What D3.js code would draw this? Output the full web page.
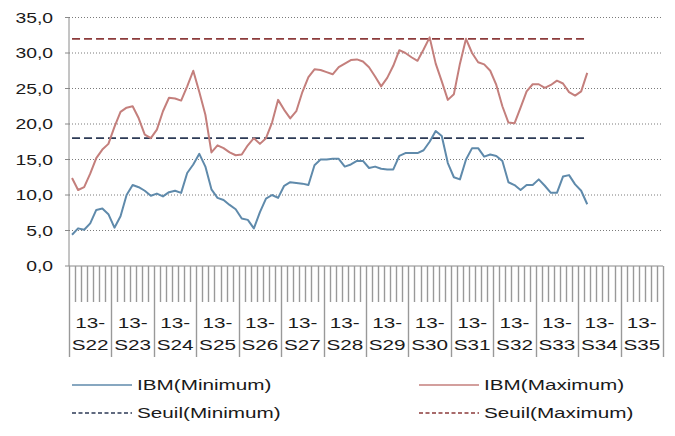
<!DOCTYPE html>
<html>
<head>
<meta charset="utf-8">
<script src="https://cdn.jsdelivr.net/npm/d3@7"></script>
<style>
  body { margin: 0; background: #fff; }
  text { font-family: "Liberation Sans", Arial, sans-serif; fill: #1a1a1a; }
</style>
</head>
<body>
<svg id="chart" width="675" height="436"></svg>
<script>
// weekly groups on the category axis, one tick per day inside each
const weeks = ['S22', 'S23', 'S24', 'S25', 'S26', 'S27', 'S28', 'S29', 'S30', 'S31', 'S32', 'S33', 'S34', 'S35']
const weekPrefix = '13-'
const daysPerWeek = 7
const yTicks = [0, 5, 10, 15, 20, 25, 30, 35]

const ibmMin = [
  4.4, 5.3, 5.1, 6.0, 7.9, 8.1, 7.3, 5.4, 7.0, 10.0,
  11.4, 11.1, 10.6, 9.9, 10.2, 9.8, 10.4, 10.6, 10.3, 13.1,
  14.3, 15.8, 14.0, 10.8, 9.6, 9.3, 8.6, 8.0, 6.7, 6.5,
  5.3, 7.6, 9.5, 10.0, 9.6, 11.3, 11.8, 11.7, 11.6, 11.4,
  14.2, 15.0, 15.0, 15.1, 15.1, 14.0, 14.3, 14.8, 14.8, 13.8,
  14.0, 13.7, 13.6, 13.6, 15.5, 15.9, 15.9, 15.9, 16.3, 17.5,
  19.0, 18.3, 14.5, 12.5, 12.2, 15.0, 16.6, 16.6, 15.4, 15.7,
  15.5, 14.8, 11.8, 11.4, 10.7, 11.4, 11.4, 12.2, 11.3, 10.3,
  10.3, 12.6, 12.8, 11.5, 10.6, 8.7
]
const ibmMax = [
  12.4, 10.7, 11.1, 13.0, 15.2, 16.4, 17.2, 19.6, 21.7, 22.3,
  22.5, 20.8, 18.5, 18.0, 19.2, 21.8, 23.7, 23.6, 23.3, 25.3,
  27.5, 24.5, 21.3, 16.0, 17.0, 16.6, 16.0, 15.6, 15.7, 17.0,
  18.0, 17.2, 18.0, 20.2, 23.4, 22.0, 20.8, 21.8, 24.5, 26.6,
  27.7, 27.6, 27.3, 27.0, 28.0, 28.5, 29.0, 29.1, 28.8, 28.0,
  26.7, 25.3, 26.5, 28.2, 30.4, 30.0, 29.4, 28.9, 30.5, 32.2,
  28.5, 26.0, 23.4, 24.2, 28.5, 32.0, 30.0, 28.7, 28.4, 27.5,
  25.5, 22.5, 20.2, 20.1, 22.3, 24.6, 25.6, 25.6, 25.1, 25.5,
  26.1, 25.7, 24.5, 24.0, 24.6, 27.2
]
const seuilMin = 18
const seuilMax = 32

const legendItems = [
  { label: 'IBM(Minimum)', color: '#5f8aab', dash: null },
  { label: 'IBM(Maximum)', color: '#c47f7c', dash: null },
  { label: 'Seuil(Minimum)', color: '#2c3a55', dash: '4,2.5' },
  { label: 'Seuil(Maximum)', color: '#8c3b3b', dash: '4,2.5' }
]

// the source picture is stretched sideways, so text is too
const SX = 1.38
const stretch = (x, y) => 'translate(' + x + ',' + y + ') scale(' + SX + ',1)'

const svg = d3.select('#chart')
const left = 69
const right = 663
const x = d3.scaleLinear().domain([0, weeks.length * daysPerWeek]).range([left, right])
const xWeek = d3.scaleBand().domain(weeks).range([left, right])
const y = d3.scaleLinear().domain([0, 35]).range([266, 17.5])

// gridlines
svg.append('g').selectAll('line')
  .data(yTicks.filter(d => d > 0))
  .join('line')
  .attr('x1', left).attr('x2', right - 1)
  .attr('y1', d => y(d)).attr('y2', d => y(d))
  .attr('stroke', '#7a7a7a')
  .attr('stroke-width', 1)
  .attr('stroke-dasharray', '1,2')

// y axis
const yAxis = svg.append('g')
yAxis.append('line')
  .attr('x1', left).attr('x2', left)
  .attr('y1', y(35)).attr('y2', y(0))
  .attr('stroke', '#8a8a8a')
yAxis.selectAll('.tick')
  .data(yTicks)
  .join('line')
  .attr('x1', left - 4).attr('x2', left)
  .attr('y1', d => y(d)).attr('y2', d => y(d))
  .attr('stroke', '#8a8a8a')
yAxis.selectAll('text')
  .data(yTicks)
  .join('text')
  .attr('transform', d => stretch(53, y(d) + 5))
  .attr('text-anchor', 'end')
  .attr('font-size', 14)
  .text(d => d3.format('.1f')(d).replace('.', ','))

// x axis: baseline, day ticks, week dividers
const xAxis = svg.append('g')
xAxis.append('line')
  .attr('x1', left).attr('x2', right)
  .attr('y1', y(0)).attr('y2', y(0))
  .attr('stroke', '#8a8a8a')
xAxis.selectAll('.day')
  .data(d3.range(0, weeks.length * daysPerWeek + 1))
  .join('line')
  .attr('x1', d => Math.round(x(d)) + 0.5).attr('x2', d => Math.round(x(d)) + 0.5)
  .attr('y1', y(0))
  .attr('y2', d => d % daysPerWeek === 0 ? 357 : 302)
  .attr('stroke', '#999')
  .attr('stroke-width', 1.4)

const labels = xAxis.selectAll('.wk')
  .data(weeks)
  .join('g')
labels.append('text')
  .attr('transform', d => stretch(xWeek(d) + xWeek.bandwidth() / 2, 328))
  .attr('text-anchor', 'middle')
  .attr('font-size', 15)
  .text(weekPrefix)
labels.append('text')
  .attr('transform', d => stretch(xWeek(d) + xWeek.bandwidth() / 2, 350))
  .attr('text-anchor', 'middle')
  .attr('font-size', 15)
  .text(d => d)

// threshold lines span the days that have data
const lastDay = ibmMax.length - 1
const drawSeuil = (value, color) => {
  svg.append('line')
    .attr('x1', x(0.5)).attr('x2', x(lastDay + 0.5))
    .attr('y1', y(value)).attr('y2', y(value))
    .attr('stroke', color)
    .attr('stroke-width', 1.8)
    .attr('stroke-dasharray', '8,4')
}
drawSeuil(seuilMax, legendItems[3].color)
drawSeuil(seuilMin, legendItems[2].color)

const line = d3.line()
  .x((d, i) => x(i + 0.5))
  .y(d => y(d))

svg.append('path')
  .datum(ibmMax)
  .attr('d', line)
  .attr('fill', 'none')
  .attr('stroke', legendItems[1].color)
  .attr('stroke-width', 2)
  .attr('stroke-linejoin', 'round')

svg.append('path')
  .datum(ibmMin)
  .attr('d', line)
  .attr('fill', 'none')
  .attr('stroke', legendItems[0].color)
  .attr('stroke-width', 2)
  .attr('stroke-linejoin', 'round')

// legend, two columns by two rows
const legend = svg.append('g')
const legendPos = [[72, 385], [419, 385], [72, 413], [419, 413]]
legendItems.forEach((item, i) => {
  const [lx, ly] = legendPos[i]
  legend.append('line')
    .attr('x1', lx).attr('x2', lx + 60)
    .attr('y1', ly).attr('y2', ly)
    .attr('stroke', item.color)
    .attr('stroke-width', 1.5)
    .attr('stroke-dasharray', item.dash)
  legend.append('text')
    .attr('transform', stretch(lx + 65, ly + 5))
    .attr('font-size', 15)
    .text(item.label)
})
</script>
</body>
</html>
